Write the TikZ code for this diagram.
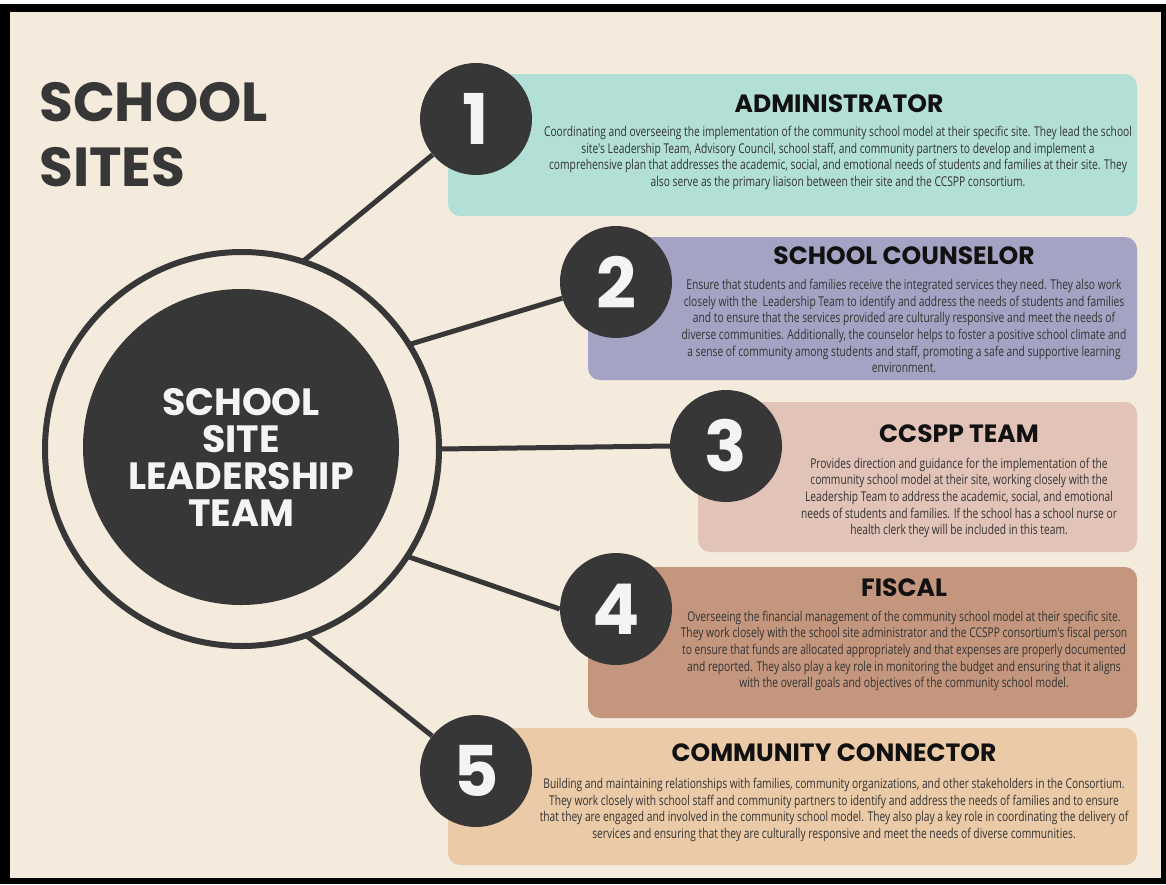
\documentclass[tikz,border=0pt]{standalone}
\usepackage{fontspec}
\newfontfamily\headfont{Poppins}
\newfontfamily\bodyfont[FakeStretch=0.76]{Open Sans}
\definecolor{bg}{HTML}{F4EBDD}
\definecolor{dark}{HTML}{373737}
\definecolor{numwhite}{HTML}{F4F4F4}
\definecolor{headblack}{HTML}{111111}
\definecolor{bodygray}{HTML}{333333}
\definecolor{boxA}{HTML}{B2E0D6}
\definecolor{boxB}{HTML}{A4A3C3}
\definecolor{boxC}{HTML}{E2C3B8}
\definecolor{boxD}{HTML}{C3967D}
\definecolor{boxE}{HTML}{EBCBA7}
\begin{document}
\begin{tikzpicture}[x=1pt,y=-1pt,
  conn/.style={draw=dark, line width=5pt},
  num/.style={circle, fill=dark, minimum size=112pt, inner sep=0pt, text=numwhite,
    font=\headfont\bfseries\fontsize{70}{70}\selectfont},
  box/.style={rectangle, rounded corners=12pt, inner sep=0pt},
  head/.style={inner sep=0pt, text=headblack, font=\headfont\bfseries\fontsize{25}{28}\selectfont},
  body/.style={inner sep=0pt, text=bodygray, align=center,
    font=\bodyfont\fontsize{13.5}{16.7}\selectfont}]
\useasboundingbox (0,0) rectangle (1166,884);
\fill[white] (0,0) rectangle (1166,884);
\fill[black] (0,4) rectangle (1166,884);
\fill[bg] (10,12) rectangle (1161,878);

% title
\node[anchor=north west, inner sep=0pt, align=left, text=dark,
  font=\headfont\bfseries\fontsize{55}{65}\selectfont] (title) at (39,82) {SCHOOL\\SITES};

% boxes
\node[box, fill=boxA, minimum width=689pt, minimum height=142pt] (b1) at (792.5,145) {};
\node[box, fill=boxB, minimum width=549pt, minimum height=143pt] (b2) at (862.5,308.5) {};
\node[box, fill=boxC, minimum width=439pt, minimum height=150pt] (b3) at (917.5,477) {};
\node[box, fill=boxD, minimum width=549pt, minimum height=151pt] (b4) at (862.5,642.5) {};
\node[box, fill=boxE, minimum width=689pt, minimum height=137pt] (b5) at (792.5,796.5) {};

% number circles
\node[num] (n1) at (476,119) {1};
\node[num] (n2) at (616,282) {2};
\node[num] (n3) at (726,446) {3};
\node[num] (n4) at (616,609) {4};
\node[num] (n5) at (476,771) {5};

% ring and core
\node[circle, minimum size=394pt, inner sep=0pt] (ring) at (242,449) {};
\draw[conn] (ring.72) -- (n1);
\draw[conn] (ring.32) -- (n2);
\draw[conn] (ring.0) -- (n3.west);
\draw[conn] (ring.-33) -- (n4.west);
\draw[conn] (ring.-71) -- (n5);
\draw[dark, line width=6pt, fill=bg] (ring.center) circle[radius=197pt];
\node[circle, fill=dark, minimum size=316pt, inner sep=0pt] (core) at (241,447) {};
\node[align=center, inner sep=0pt, text=numwhite,
  font=\headfont\bfseries\fontsize{38}{37}\selectfont] (coretext) at (241,457)
  {SCHOOL\\SITE\\LEADERSHIP\\TEAM};

% headings
\node[head] (h1) at (839,104) {ADMINISTRATOR};
\node[head] (h2) at (904,256) {SCHOOL COUNSELOR};
\node[head] (h3) at (959,434) {CCSPP TEAM};
\node[head] (h4) at (904,588) {FISCAL};
\node[head] (h5) at (834,753) {COMMUNITY CONNECTOR};

% bodies
\node[body] (t1) at (838,158) {Coordinating and overseeing the implementation of the community school model at their specific site. They lead the school\\
site's Leadership Team, Advisory Council, school staff, and community partners to develop and implement a\\
comprehensive plan that addresses the academic, social, and emotional needs of students and families at their site. They\\
also serve as the primary liaison between their site and the CCSPP consortium.};
\node[body] (t2) at (904,326) {Ensure that students and families receive the integrated services they need. They also work\\
closely with the \ Leadership Team to identify and address the needs of students and families\\
and to ensure that the services provided are culturally responsive and meet the needs of\\
diverse communities. Additionally, the counselor helps to foster a positive school climate and\\
a sense of community among students and staff, promoting a safe and supportive learning\\
environment.};
\node[body] (t3) at (959,498) {Provides direction and guidance for the implementation of the\\
community school model at their site, working closely with the\\
Leadership Team to address the academic, social, and emotional\\
needs of students and families. If the school has a school nurse or\\
health clerk they will be included in this team.};
\node[body] (t4) at (904,651) {Overseeing the financial management of the community school model at their specific site.\\
They work closely with the school site administrator and the CCSPP consortium's fiscal person\\
to ensure that funds are allocated appropriately and that expenses are properly documented\\
and reported. They also play a key role in monitoring the budget and ensuring that it aligns\\
with the overall goals and objectives of the community school model.};
\node[body] (t5) at (834,810) {Building and maintaining relationships with families, community organizations, and other stakeholders in the Consortium.\\
They work closely with school staff and community partners to identify and address the needs of families and to ensure\\
that they are engaged and involved in the community school model. They also play a key role in coordinating the delivery of\\
services and ensuring that they are culturally responsive and meet the needs of diverse communities.};
\end{tikzpicture}
\end{document}
